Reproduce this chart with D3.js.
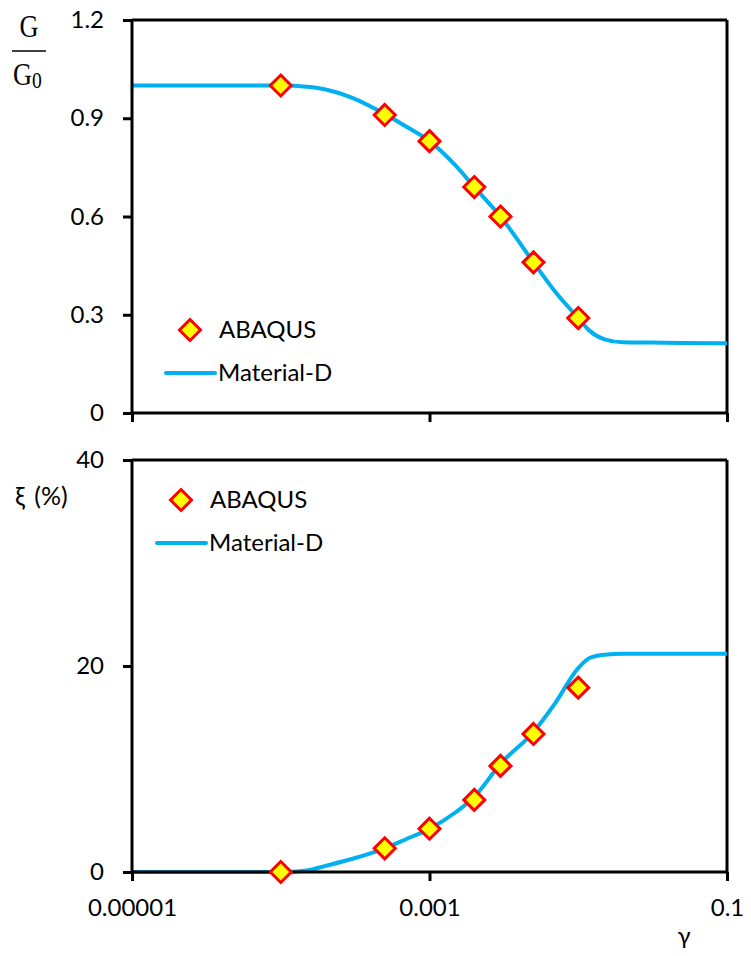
<!DOCTYPE html>
<html><head><meta charset="utf-8">
<script src="https://cdn.jsdelivr.net/npm/d3@7"></script>
<style>body{margin:0;background:#fff;} svg{display:block;}</style>
</head><body>
<svg id="c" width="751" height="956" font-family="Lato, 'Noto Sans', sans-serif"></svg>
<script>
// ---- data ----
const strainMarkers = [1e-4, 5e-4, 1e-3, 2e-3, 3e-3, 5e-3, 1e-2];
const ggoMarkers    = [1.0, 0.91, 0.83, 0.69, 0.60, 0.46, 0.29];
const dampMarkers   = [0.0, 2.3, 4.2, 7.0, 10.3, 13.4, 17.9];

const strainCurve = [1e-5, 5e-5, 1e-4, 1.5e-4, 2e-4, 3e-4, 5e-4, 7e-4, 1e-3, 1.5e-3, 2e-3, 3e-3, 5e-3, 7e-3, 1e-2, 1.2e-2, 1.5e-2, 2e-2, 3e-2, 5e-2, 1e-1];
const ggoCurve    = [1.0, 1.0, 1.0, 0.996, 0.988, 0.963, 0.913, 0.874, 0.83, 0.755, 0.69, 0.60, 0.46, 0.37, 0.29, 0.25, 0.225, 0.216, 0.215, 0.214, 0.213];
const dampCurve   = [0, 0, 0, 0.15, 0.6, 1.26, 2.3, 3.2, 4.2, 5.8, 7.3, 10.5, 13.6, 16.4, 19.8, 20.8, 21.1, 21.2, 21.2, 21.2, 21.2];

const xTicks = [1e-5, 1e-3, 1e-1];
const xTickLabels = ["0.00001", "0.001", "0.1"];
const yTopTicks = [0, 0.3, 0.6, 0.9, 1.2];
const yBotTicks = [0, 20, 40];
const seriesNames = ["ABAQUS", "Material-D"];

// ---- layout ----
const svg = d3.select("#c");
const L = 132, R = 727;
const x = d3.scaleLog().domain([1e-5, 0.1]).range([L, R]);
const yTop = d3.scaleLinear().domain([0, 1.2]).range([413, 20]);
const yBot = d3.scaleLinear().domain([0, 40]).range([872, 460]);

const lineColor = "#00B0F0";
const fontSize = 24;
const sans = "Lato, 'Noto Sans', sans-serif";

function diamond(g, cx, cy) {
  const s = 10.5;
  g.append("path")
    .attr("d", `M${cx},${cy - s}L${cx + s},${cy}L${cx},${cy + s}L${cx - s},${cy}Z`)
    .attr("fill", "#FFFF00").attr("stroke", "#FF0000").attr("stroke-width", 3)
    .attr("stroke-linejoin", "miter");
}

function panel(y, yTicks, yFmt, curveVals, markerVals, showXLabels, legendPos) {
  const g = svg.append("g");
  const [y0, y1] = y.range();
  g.append("line").attr("x1", L).attr("x2", R).attr("y1", y1).attr("y2", y1)
    .attr("stroke", "#000").attr("stroke-width", 3);
  g.append("line").attr("x1", R).attr("x2", R).attr("y1", y1).attr("y2", y0)
    .attr("stroke", "#000").attr("stroke-width", 3);

  const pts = strainCurve.map((s, i) => [s, curveVals[i]]);
  g.append("path").datum(pts)
    .attr("d", d3.line().x(d => x(d[0])).y(d => y(d[1])).curve(d3.curveMonotoneX))
    .attr("fill", "none").attr("stroke", lineColor).attr("stroke-width", 4);

  const ya = g.append("g").attr("transform", `translate(${L},0)`)
    .call(d3.axisLeft(y).tickValues(yTicks).tickSize(9).tickPadding(19).tickFormat(yFmt));
  ya.select(".domain").attr("stroke-width", 3).attr("d", `M0,${y0}V${y1}`);
  ya.selectAll(".tick line").attr("stroke-width", 3);
  ya.selectAll("text").attr("font-size", fontSize).attr("font-family", sans).attr("fill", "#000");

  const xa = g.append("g").attr("transform", `translate(0,${y0})`)
    .call(d3.axisBottom(x).tickValues(xTicks).tickSize(9).tickPadding(18)
      .tickFormat((d, i) => showXLabels ? xTickLabels[i] : ""));
  xa.select(".domain").attr("stroke-width", 3).attr("d", `M${L},0H${R}`);
  xa.selectAll(".tick line").attr("stroke-width", 3);
  xa.selectAll("text").attr("font-size", fontSize).attr("font-family", sans).attr("fill", "#000");

  strainMarkers.forEach((s, i) => diamond(g, x(s), y(markerVals[i])));

  const [lx, ly] = legendPos;
  diamond(g, lx + 24, ly);
  g.append("text").attr("x", lx + 53).attr("y", ly).attr("dy", "0.35em")
    .attr("font-size", fontSize).text(seriesNames[0]);
  g.append("line").attr("x1", lx).attr("x2", lx + 49).attr("y1", ly + 43).attr("y2", ly + 43)
    .attr("stroke", lineColor).attr("stroke-width", 4).attr("stroke-linecap", "round");
  g.append("text").attr("x", lx + 52).attr("y", ly + 43).attr("dy", "0.35em")
    .attr("font-size", fontSize).text(seriesNames[1]);
}

panel(yTop, yTopTicks, d => d === 0 ? "0" : d3.format(".1f")(d), ggoCurve, ggoMarkers, false, [166, 330]);
panel(yBot, yBotTicks, d => String(d), dampCurve, dampMarkers, true, [157, 500]);

// y label top: G / G0
const serif = "'Liberation Serif', 'DejaVu Serif', serif";
svg.append("text").attr("font-family", serif).attr("font-size", 31)
  .attr("text-anchor", "middle")
  .attr("transform", "translate(29,37) scale(0.85,1.03)").text("G");
svg.append("line").attr("x1", 12).attr("x2", 46).attr("y1", 51).attr("y2", 51)
  .attr("stroke", "#000").attr("stroke-width", 1.5);
const g0 = svg.append("text").attr("font-family", serif).attr("font-size", 31)
  .attr("transform", "translate(13,85) scale(0.85,1.03)");
g0.append("tspan").text("G");
g0.append("tspan").attr("font-size", 23).attr("dy", 3).text("0");

svg.append("text").attr("x", 15).attr("y", 496).attr("dy", "0.35em")
  .attr("font-size", 25).attr("font-family", sans).attr("word-spacing", 3).text("ξ (%)");
svg.append("text").attr("x", 684).attr("y", 936).attr("dy", "0.35em").attr("text-anchor", "middle")
  .attr("font-size", fontSize).attr("font-family", sans).text("γ");
</script>
</body></html>
